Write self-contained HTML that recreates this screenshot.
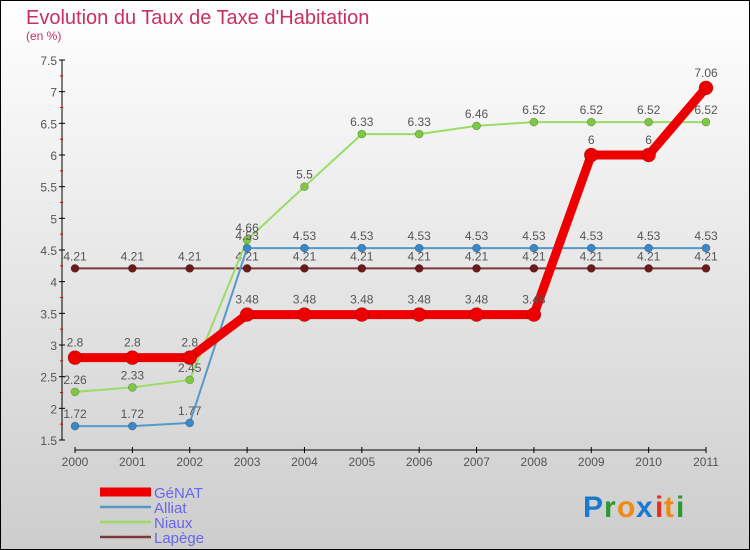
<!DOCTYPE html>
<html><head><meta charset="utf-8">
<style>
body{margin:0}
#c{width:750px;height:550px;position:relative;overflow:hidden}
text{font-family:"Liberation Sans",sans-serif}
</style></head>
<body>
<div id="c">
<svg id="s" width="750" height="550" xmlns="http://www.w3.org/2000/svg">
<defs><linearGradient id="bg" x1="0" y1="0" x2="0" y2="1"><stop offset="0" stop-color="#ffffff"/><stop offset="1" stop-color="#cdcdcd"/></linearGradient></defs>
<rect x="0.5" y="0.5" width="749" height="549" fill="url(#bg)" stroke="#000"/>
<text x="26" y="24" font-size="20" fill="#c8305f">Evolution du Taux de Taxe d'Habitation</text>
<text x="26" y="40" font-size="12" fill="#c8305f">(en %)</text>
<g id="axes"></g>
<g id="series"></g>
<g id="legend"></g>
<g font-size="30" font-weight="bold">
<text x="583" y="517" fill="#1a7ad0">P</text><text x="604" y="517" fill="#2a9a30">r</text><text x="617" y="517" fill="#f08a10">o</text><text x="636" y="517" fill="#1a7ad0">x</text><text x="655" y="517" fill="#e03020">i</text><text x="664" y="517" fill="#f08a10">t</text><text x="676" y="517" fill="#2a9a30">i</text>
</g>
</svg>
</div>
<script>
const years=[2000,2001,2002,2003,2004,2005,2006,2007,2008,2009,2010,2011];
const genat=[2.8,2.8,2.8,3.48,3.48,3.48,3.48,3.48,3.48,6,6,7.06];
const alliat=[1.72,1.72,1.77,4.53,4.53,4.53,4.53,4.53,4.53,4.53,4.53,4.53];
const niaux=[2.26,2.33,2.45,4.66,5.5,6.33,6.33,6.46,6.52,6.52,6.52,6.52];
const lapege=[4.21,4.21,4.21,4.21,4.21,4.21,4.21,4.21,4.21,4.21,4.21,4.21];
const yTicks=["1.5","2","2.5","3","3.5","4","4.5","5","5.5","6","6.5","7","7.5"];
const NS="http://www.w3.org/2000/svg";
const X=i=>75+i*(706-75)/11;
const Y=v=>440-(v-1.5)*(380/6);
function mk(tag,at,parent,txt){const e=document.createElementNS(NS,tag);for(const k in at)e.setAttribute(k,at[k]);if(txt!==undefined)e.textContent=txt;parent.appendChild(e);return e;}
const ax=document.getElementById('axes');
let a=mk('line',{x1:62,y1:Y(7.5),x2:62,y2:Y(1.5),stroke:'#000','stroke-width':1},ax);

yTicks.forEach(t=>{const v=parseFloat(t),y=Y(v);
 mk('line',{x1:59,y1:y,x2:65,y2:y,stroke:'#000'},ax);
 if(v<7.5) mk('line',{x1:60,y1:Y(v+0.25),x2:63,y2:Y(v+0.25),stroke:'#e00'},ax);
 const tx=mk('text',{x:57,y:y+5,'text-anchor':'end','font-size':12,fill:'#555'},ax,t);
 });
a=mk('line',{x1:X(0),y1:450,x2:X(11),y2:450,stroke:'#000'},ax);

years.forEach((yr,i)=>{mk('line',{x1:X(i),y1:447,x2:X(i),y2:453,stroke:'#000'},ax);
 const tx=mk('text',{x:X(i),y:466,'text-anchor':'middle','font-size':12,fill:'#555'},ax,yr);
 });
const sg=document.getElementById('series');
const series=[
 {n:'lapege',d:lapege,c:'#7a3a3a',w:2,r:4,pc:'#6a1a1a',lab:'Lapège'},
 {n:'niaux',d:niaux,c:'#99dd66',w:2,r:4,pc:'#7cc840',lab:'Niaux'},
 {n:'alliat',d:alliat,c:'#5599cc',w:2,r:4,pc:'#3a88c8',lab:'Alliat'},
 {n:'genat',d:genat,c:'#ee0000',w:9,r:7,pc:'#ee0000',lab:'GéNAT'}];
series.forEach(s=>{
 const g=mk('g',{},sg);
 const p=mk('polyline',{points:s.d.map((v,i)=>X(i)+','+Y(v)).join(' '),fill:'none',stroke:s.c,'stroke-width':s.w,'stroke-linejoin':'round'},g);
 
 s.d.forEach((v,i)=>{const c=mk('circle',{cx:X(i),cy:Y(v),r:s.r,fill:s.pc,stroke:'rgba(0,0,0,0.3)','stroke-width':0.6},g);
  
  const t=mk('text',{x:X(i),y:Y(v)-(s.r+4),'text-anchor':'middle','font-size':12,fill:'#555'},g,String(v));
  });
});
const lg=document.getElementById('legend');
[...series].reverse().forEach((s,k)=>{const y=492+k*15;
 const g=mk('g',{},lg);
 mk('line',{x1:100,y1:y,x2:151,y2:y,stroke:s.c,'stroke-width':s.n==='genat'?9:2.5},g);
 mk('text',{x:154,y:y+6,'font-size':15,fill:'#6666ee'},g,s.lab);});
</script>
</body></html>
